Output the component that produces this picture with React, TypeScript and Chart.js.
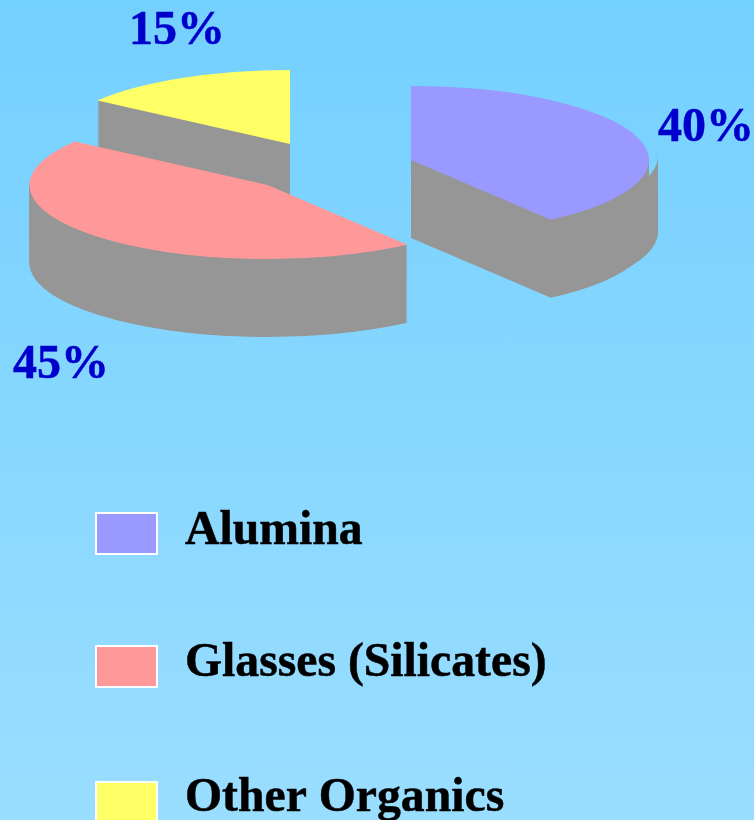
import React, { useEffect, useRef } from "react";
import { Chart, registerables } from "chart.js";

Chart.register(...registerables);

const materials = ["Alumina", "Glasses (Silicates)", "Other Organics"];
const shares = [40, 45, 15];
const sliceColors = ["#9999FF", "#FF9999", "#FFFF66"];

// Screen-space displacement of each exploded slice from the pie centre.
const sliceShiftX = [96, -47.5, -25];
const sliceShiftY = [-5, 20, -21];
// The outer wall of a slice can sit slightly off its top face.
const wallFlareX = [9, 0, 0];
const wallFlareY = [-4, 0, 0];
// Where each percentage label sits (left edge, baseline).
const shareLabelX = [658, 13, 129];
const shareLabelY = [141, 378, 44];
// Back-to-front painting order of the slices.
const paintOrder = [2, 1, 0];

const WALL_COLOR = "#969696";
const WALL_DEPTH = 78;
const TILT = 74 / 238;
const SHARE_FONT = 'bold 48px "Liberation Serif"';
const KEY_FONT = 'bold 47.7px "Liberation Serif"';
const TEXT_WEIGHT = 0.5;
const keyRowY = [513, 646, 782];
const keyTextY = [544, 676, 811];

const tiltedPie = {
  id: "tiltedPie",
  beforeDatasetsDraw(chart: any) {
    const { ctx } = chart;
    const arcs = chart.getDatasetMeta(0).data;
    for (const i of paintOrder) {
      const arc = arcs[i];
      const place = (c: CanvasRenderingContext2D, dx: number, dy: number) => {
        c.translate(arc.x + sliceShiftX[i] + dx, arc.y + sliceShiftY[i] + dy);
        c.scale(1, TILT);
        c.translate(-arc.x, -arc.y);
      };
      const stamp = (c: CanvasRenderingContext2D, element: any, dx: number, dy: number) => {
        c.save();
        place(c, dx, dy);
        element.draw(c);
        c.restore();
      };

      // The side wall is the slice stacked downwards on a layer of its own,
      // then flattened to one grey so the stacking leaves no texture.
      const layer = document.createElement("canvas");
      layer.width = chart.width;
      layer.height = chart.height;
      const lc = layer.getContext("2d") as CanvasRenderingContext2D;
      const wall = Object.create(arc);
      wall.options = { ...arc.options, backgroundColor: WALL_COLOR, borderWidth: 0 };

      if (wallFlareX[i]) {
        const tipX = arc.x + sliceShiftX[i] + Math.cos(arc.endAngle) * arc.outerRadius;
        lc.save();
        lc.beginPath();
        lc.rect(tipX, 0, chart.width - tipX, chart.height);
        lc.clip();
        for (let d = WALL_DEPTH - 2; d > 0; d--) {
          stamp(lc, wall, wallFlareX[i], wallFlareY[i] + d);
        }
        // Only what hangs below the flared rim stays visible.
        lc.globalCompositeOperation = "destination-out";
        stamp(lc, wall, wallFlareX[i], wallFlareY[i]);
        lc.restore();
      }
      for (let d = WALL_DEPTH; d > 0; d--) {
        stamp(lc, wall, 0, d);
      }
      lc.globalCompositeOperation = "source-in";
      lc.fillStyle = WALL_COLOR;
      lc.fillRect(0, 0, layer.width, layer.height);

      ctx.drawImage(layer, 0, 0);
      stamp(ctx, arc, 0, 0);
    }
    return false;
  },
  afterDraw(chart: any) {
    const { ctx } = chart;
    const heavyText = (text: string, x: number, y: number, color: string) => {
      ctx.fillStyle = color;
      ctx.strokeStyle = color;
      ctx.lineWidth = TEXT_WEIGHT;
      ctx.fillText(text, x, y);
      ctx.strokeText(text, x, y);
    };
    ctx.save();
    ctx.textAlign = "left";
    ctx.textBaseline = "alphabetic";
    ctx.font = SHARE_FONT;
    shares.forEach((v, i) => heavyText(`${v}%`, shareLabelX[i], shareLabelY[i], "#0000CC"));
    materials.forEach((name, i) => {
      ctx.fillStyle = sliceColors[i];
      ctx.fillRect(96, keyRowY[i], 61, 41);
      ctx.strokeStyle = "#FFFFFF";
      ctx.lineWidth = 2;
      ctx.strokeRect(96, keyRowY[i], 61, 41);
      ctx.font = KEY_FONT;
      heavyText(name, 185, keyTextY[i], "#000000");
    });
    ctx.restore();
  },
};

export default function App() {
  const canvasRef = useRef<HTMLCanvasElement>(null);

  useEffect(() => {
    const chart = new Chart(canvasRef.current as HTMLCanvasElement, {
      type: "pie",
      data: {
        labels: materials,
        datasets: [
          {
            data: shares,
            backgroundColor: sliceColors,
            borderWidth: 0,
            radius: 238,
          },
        ],
      },
      options: {
        responsive: false,
        animation: false,
        layout: { padding: { right: 124, bottom: 490 } },
        plugins: { legend: { display: false }, tooltip: { enabled: false } },
      },
      plugins: [tiltedPie],
    } as any);
    return () => chart.destroy();
  }, []);

  return (
    <div
      style={{
        position: "absolute",
        left: 0,
        top: 0,
        width: 754,
        height: 820,
        overflow: "hidden",
        background: "linear-gradient(180deg, #74D0FF 0%, #9ADEFF 100%)",
      }}
    >
      <canvas ref={canvasRef} width={754} height={820} style={{ display: "block" }} />
    </div>
  );
}
